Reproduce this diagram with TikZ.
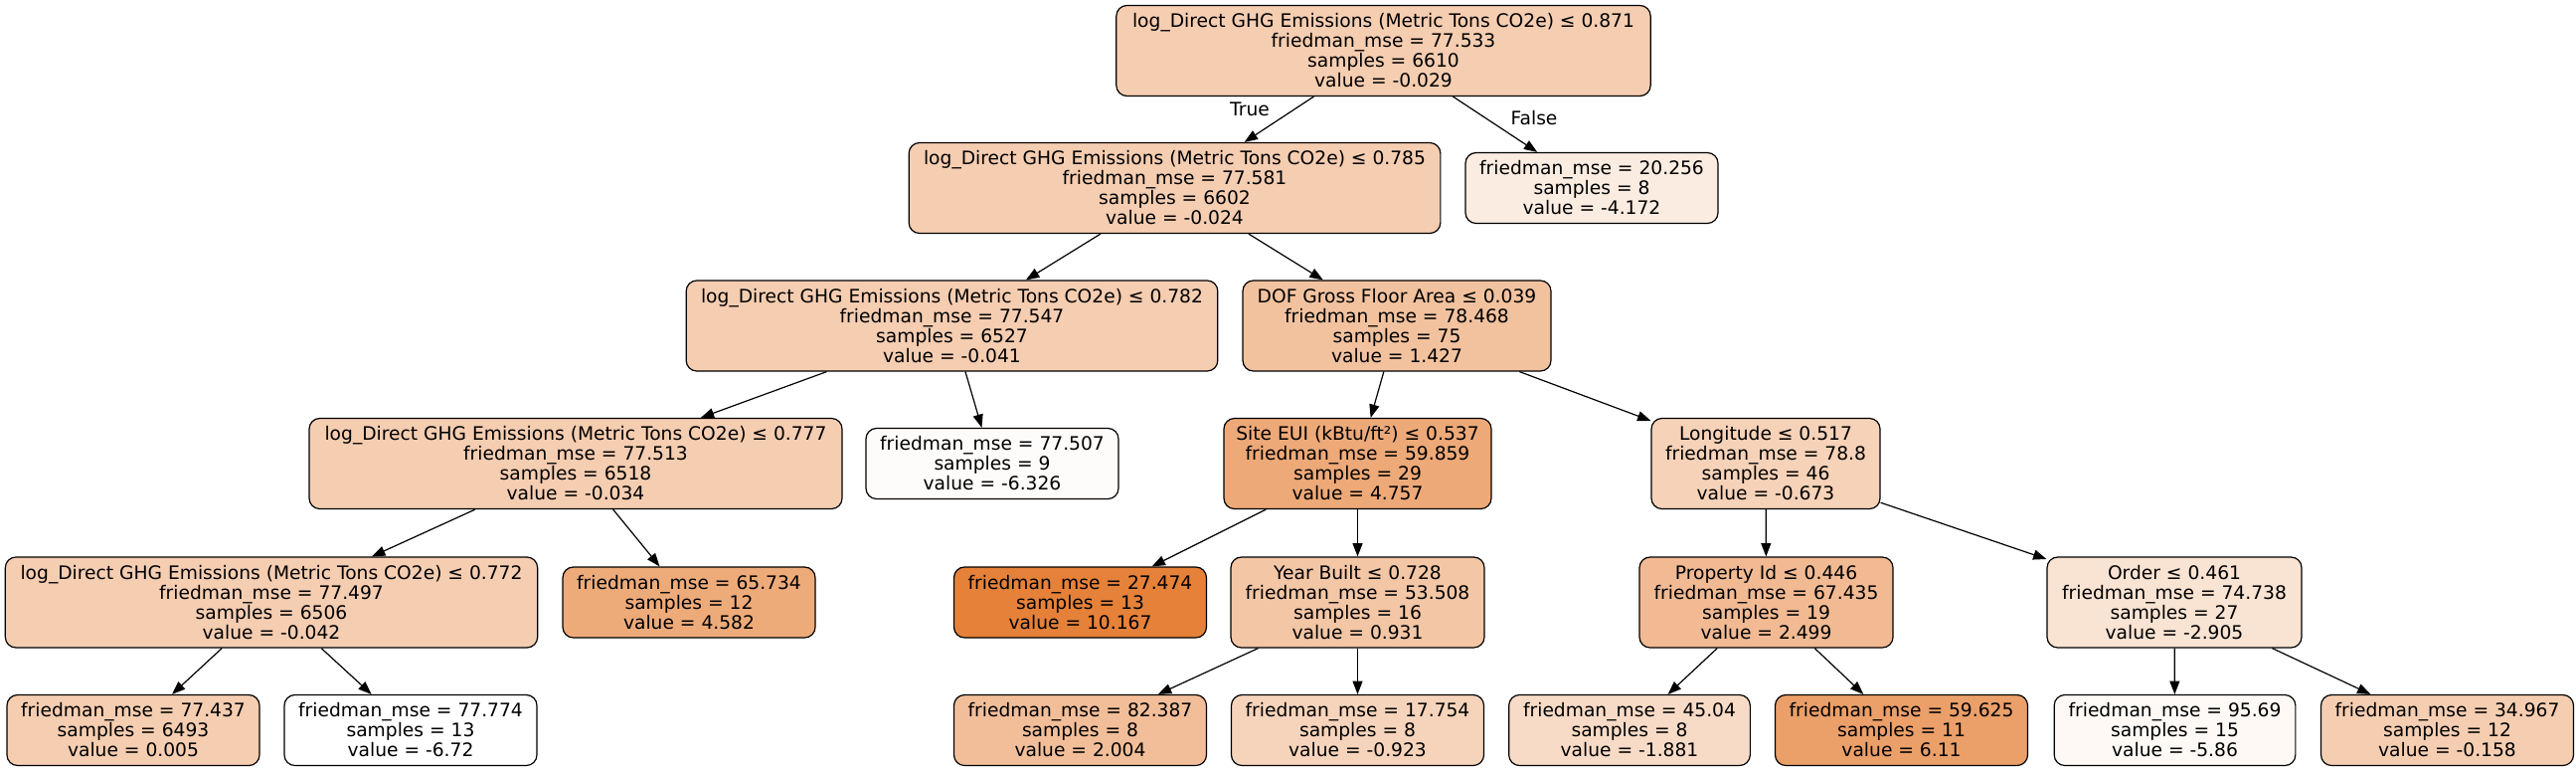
\documentclass[tikz,border=0pt]{standalone}
\usepackage{fontspec}
\setmainfont{DejaVu Sans}
\usetikzlibrary{arrows.meta}
\definecolor{cRoot}{RGB}{245,205,177}
\definecolor{cNa}{RGB}{245,205,176}
\definecolor{cLtw}{RGB}{251,236,225}
\definecolor{cDof}{RGB}{242,194,159}
\definecolor{cLse}{RGB}{254,252,250}
\definecolor{cSite}{RGB}{237,169,120}
\definecolor{cLon}{RGB}{246,210,184}
\definecolor{cLsf}{RGB}{238,171,122}
\definecolor{cMax}{RGB}{229,129,57}
\definecolor{cYb}{RGB}{243,198,165}
\definecolor{cPid}{RGB}{241,186,147}
\definecolor{cOrd}{RGB}{249,227,210}
\definecolor{cA}{RGB}{245,205,176}
\definecolor{cC}{RGB}{242,190,153}
\definecolor{cD}{RGB}{246,212,187}
\definecolor{cE}{RGB}{248,219,198}
\definecolor{cF}{RGB}{235,159,105}
\definecolor{cG}{RGB}{254,249,245}
\definecolor{cH}{RGB}{245,206,178}
\tikzset{
  tn/.style={draw=black, line width=0.9pt, rounded corners=8pt, align=center,
    inner sep=0pt, font=\fontsize{14pt}{15pt}\selectfont, minimum height=53.25pt, minimum width=190.5pt},
  big/.style={minimum height=68.25pt},
  edge/.style={draw=black, line width=0.9pt, -{Triangle[length=10pt,width=7.5pt]}},
  elab/.style={font=\fontsize{14pt}{15pt}\selectfont, inner sep=0pt}
}
\begin{document}
\begin{tikzpicture}[x=0.75pt,y=-0.75pt]
\useasboundingbox (0,0) rectangle (2591,775);
% level 0
\node[tn,big,fill=cRoot,minimum width=403pt] (root) at (1391.5,51)
  {log\_Direct GHG Emissions (Metric Tons CO2e) ≤ 0.871\\friedman\_mse = 77.533\\samples = 6610\\value = -0.029};
% level 1
\node[tn,big,fill=cRoot,minimum width=401pt] (n1) at (1181.5,189)
  {log\_Direct GHG Emissions (Metric Tons CO2e) ≤ 0.785\\friedman\_mse = 77.581\\samples = 6602\\value = -0.024};
\node[tn,fill=cLtw] (ltw) at (1601,189)
  {friedman\_mse = 20.256\\samples = 8\\value = -4.172};
% level 2
\node[tn,big,fill=cRoot,minimum width=401pt] (n2) at (957.5,327.5)
  {log\_Direct GHG Emissions (Metric Tons CO2e) ≤ 0.782\\friedman\_mse = 77.547\\samples = 6527\\value = -0.041};
\node[tn,big,fill=cDof,minimum width=232.5pt] (dof) at (1405,327.5)
  {DOF Gross Floor Area ≤ 0.039\\friedman\_mse = 78.468\\samples = 75\\value = 1.427};
% level 3
\node[tn,big,fill=cRoot,minimum width=402pt] (n3) at (579,466)
  {log\_Direct GHG Emissions (Metric Tons CO2e) ≤ 0.777\\friedman\_mse = 77.513\\samples = 6518\\value = -0.034};
\node[tn,fill=cLse] (lse) at (998,466)
  {friedman\_mse = 77.507\\samples = 9\\value = -6.326};
\node[tn,big,fill=cSite,minimum width=201.75pt] (site) at (1365.5,466)
  {Site EUI (kBtu/ft²) ≤ 0.537\\friedman\_mse = 59.859\\samples = 29\\value = 4.757};
\node[tn,big,fill=cLon,minimum width=172.5pt] (lon) at (1776,466)
  {Longitude ≤ 0.517\\friedman\_mse = 78.8\\samples = 46\\value = -0.673};
% level 4
\node[tn,big,fill=cRoot,minimum width=401.5pt] (n4) at (273,605.5)
  {log\_Direct GHG Emissions (Metric Tons CO2e) ≤ 0.772\\friedman\_mse = 77.497\\samples = 6506\\value = -0.042};
\node[tn,fill=cLsf] (lsf) at (693,605.5)
  {friedman\_mse = 65.734\\samples = 12\\value = 4.582};
\node[tn,fill=cMax] (lmax) at (1086.5,605.5)
  {friedman\_mse = 27.474\\samples = 13\\value = 10.167};
\node[tn,big,fill=cYb,minimum width=191.25pt] (yb) at (1365.5,605.5)
  {Year Built ≤ 0.728\\friedman\_mse = 53.508\\samples = 16\\value = 0.931};
\node[tn,big,fill=cPid,minimum width=191.25pt] (pid) at (1776.5,605.5)
  {Property Id ≤ 0.446\\friedman\_mse = 67.435\\samples = 19\\value = 2.499};
\node[tn,big,fill=cOrd,minimum width=192pt] (ord) at (2187,605.5)
  {Order ≤ 0.461\\friedman\_mse = 74.738\\samples = 27\\value = -2.905};
% level 5
\node[tn,fill=cA] (la) at (134,734)
  {friedman\_mse = 77.437\\samples = 6493\\value = 0.005};
\node[tn,fill=white] (lb) at (413,734)
  {friedman\_mse = 77.774\\samples = 13\\value = -6.72};
\node[tn,fill=cC] (lc) at (1086.5,734)
  {friedman\_mse = 82.387\\samples = 8\\value = 2.004};
\node[tn,fill=cD] (ld) at (1365.5,734)
  {friedman\_mse = 17.754\\samples = 8\\value = -0.923};
\node[tn,fill=cE,minimum width=182pt] (le) at (1639,734)
  {friedman\_mse = 45.04\\samples = 8\\value = -1.881};
\node[tn,fill=cF] (lf) at (1912.5,734)
  {friedman\_mse = 59.625\\samples = 11\\value = 6.11};
\node[tn,fill=cG,minimum width=182pt] (lg) at (2187.5,734)
  {friedman\_mse = 95.69\\samples = 15\\value = -5.86};
\node[tn,fill=cH] (lh) at (2461.5,734)
  {friedman\_mse = 34.967\\samples = 12\\value = -0.158};
% edges
\draw[edge] (root) -- (n1);
\draw[edge] (root) -- (ltw);
\draw[edge] (n1) -- (n2);
\draw[edge] (n1) -- (dof);
\draw[edge] (n2) -- (n3);
\draw[edge] (n2) -- (lse);
\draw[edge] (n3) -- (n4);
\draw[edge] (n3) -- (lsf);
\draw[edge] (n4) -- (la);
\draw[edge] (n4) -- (lb);
\draw[edge] (dof) -- (site);
\draw[edge] (dof) -- (lon);
\draw[edge] (site) -- (lmax);
\draw[edge] (site) -- (yb);
\draw[edge] (yb) -- (lc);
\draw[edge] (yb) -- (ld);
\draw[edge] (lon) -- (pid);
\draw[edge] (lon) -- (ord);
\draw[edge] (pid) -- (le);
\draw[edge] (pid) -- (lf);
\draw[edge] (ord) -- (lg);
\draw[edge] (ord) -- (lh);
% edge labels
\node[elab] (ltrue) at (1257,110) {True};
\node[elab] (lfalse) at (1543,119) {False};
\end{tikzpicture}
\end{document}
